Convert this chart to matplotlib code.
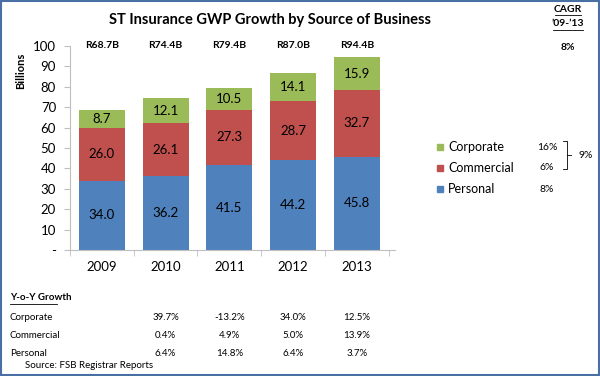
import matplotlib
matplotlib.use("Agg")
import matplotlib.pyplot as plt
from matplotlib.patches import Rectangle
from matplotlib.lines import Line2D

plt.rcParams['font.family'] = ['Lato', 'DejaVu Sans']

years = ["2009", "2010", "2011", "2012", "2013"]
personal = [34.0, 36.2, 41.5, 44.2, 45.8]
commercial = [26.0, 26.1, 27.3, 28.7, 32.7]
corporate = [8.7, 12.1, 10.5, 14.1, 15.9]
totals = ["R68.7B", "R74.4B", "R79.4B", "R87.0B", "R94.4B"]

series_names = ["Corporate", "Commercial", "Personal"]
cagr = ["16%", "6%", "8%"]
cagr_total = "8%"
cagr_corp_comm = "9%"

yoy = {
    "Corporate": ["39.7%", "-13.2%", "34.0%", "12.5%"],
    "Commercial": ["0.4%", "4.9%", "5.0%", "13.9%"],
    "Personal": ["6.4%", "14.8%", "6.4%", "3.7%"],
}

BLUE, RED, GREEN = "#4F81BD", "#C0504D", "#9BBB59"
colors = {"Corporate": GREEN, "Commercial": RED, "Personal": BLUE}

W, H = 600, 376
fig = plt.figure(figsize=(6, 3.76), dpi=100)


def fx(px):
    return px / W


def fy(py):
    return 1 - py / H


ax = fig.add_axes([fx(70), fy(250), fx(395) - fx(70), fy(46) - fy(250)])
x = list(range(len(years)))
bw = 0.72
ax.bar(x, personal, bw, color=BLUE)
ax.bar(x, commercial, bw, bottom=personal, color=RED)
bot3 = [p + c for p, c in zip(personal, commercial)]
ax.bar(x, corporate, bw, bottom=bot3, color=GREEN)

for i in x:
    ax.text(i, personal[i] / 2, f"{personal[i]:.1f}", ha="center", va="center", fontsize=9.5)
    ax.text(i, personal[i] + commercial[i] / 2, f"{commercial[i]:.1f}", ha="center", va="center", fontsize=9.5)
    ax.text(i, bot3[i] + corporate[i] / 2, f"{corporate[i]:.1f}", ha="center", va="center", fontsize=9.5)
    ax.text(i, 100, totals[i], ha="center", va="center", fontsize=7.5, fontweight="bold")

ax.set_xlim(-0.5, 4.6)
ax.set_ylim(0, 100)
ax.set_yticks(range(0, 101, 10))
ax.set_yticklabels(["-"] + [str(v) for v in range(10, 101, 10)], fontsize=9.5)
ax.set_xticks(x)
ax.set_xticklabels(years, fontsize=9.5)
ax.set_xticks([i + 0.5 for i in range(-1, 5)], minor=True)
for s in ["top", "right"]:
    ax.spines[s].set_visible(False)
ax.spines["left"].set_color("#BFBFBF")
ax.spines["bottom"].set_color("#BFBFBF")
ax.tick_params(axis="y", length=4, color="#BFBFBF", pad=6)
ax.tick_params(axis="x", which="major", length=0, pad=8)
ax.tick_params(axis="x", which="minor", length=4, color="#BFBFBF")
ax.set_ylabel("Billions", fontsize=8, fontweight="bold")
ax.yaxis.set_label_coords(-0.135, 0.88)

fig.text(fx(270), fy(20), "ST Insurance GWP Growth by Source of Business",
         ha="center", va="center", fontsize=10.5, fontweight="bold")

# CAGR header
fig.text(fx(568), fy(9), "CAGR", ha="center", va="center", fontsize=7.5, fontweight="bold")
fig.text(fx(568), fy(24), "\u201909-\u201913", ha="center", va="center", fontsize=7.5, fontweight="bold")
fig.add_artist(Line2D([fx(555), fx(581)], [fy(15), fy(15)], color="black", lw=0.6))
fig.add_artist(Line2D([fx(553), fx(583)], [fy(30), fy(30)], color="black", lw=0.6))
fig.text(fx(568), fy(47), cagr_total, ha="center", va="center", fontsize=7.5, fontweight="bold")

# legend with CAGR values
leg_y = [147, 168, 189]
for name, ly, cv in zip(series_names, leg_y, cagr):
    fig.add_artist(Rectangle((fx(437), fy(ly + 3)), fx(6), fy(0) - fy(6),
                             color=colors[name], transform=fig.transFigure))
    fig.text(fx(448), fy(ly), name, ha="left", va="center", fontsize=9)
    fig.text(fx(547), fy(ly), cv, ha="center", va="center", fontsize=7.5)

# bracket
fig.add_artist(Line2D([fx(563), fx(567), fx(567), fx(563)],
                      [fy(141), fy(141), fy(169), fy(169)], color="black", lw=0.6))
fig.add_artist(Line2D([fx(567), fx(571)], [fy(155), fy(155)], color="black", lw=0.6))
fig.text(fx(586), fy(155), cagr_corp_comm, ha="center", va="center", fontsize=7.5)

# YoY table
fig.text(fx(10), fy(298), "Y-o-Y Growth", ha="left", va="center", fontsize=7, fontweight="bold")
fig.add_artist(Line2D([fx(10), fx(57)], [fy(304), fy(304)], color="black", lw=0.6))
row_y = [317, 336, 354]
for (name, vals), ry in zip(yoy.items(), row_y):
    fig.text(fx(10), fy(ry), name, ha="left", va="center", fontsize=7)
    for j, v in enumerate(vals):
        xc = ax.transData.transform((j + 1, 0))[0] / fig.dpi / 6
        fig.text(xc, fy(ry), v, ha="center", va="center", fontsize=7)
fig.text(fx(25), fy(365), "Source: FSB Registrar Reports", ha="left", va="center", fontsize=7)

# border
fig.add_artist(Rectangle((0.002, 0.003), 0.996, 0.994, fill=False, ec="#4A6FA5", lw=1.5,
                         transform=fig.transFigure))

fig.savefig("out.png", dpi=100)
